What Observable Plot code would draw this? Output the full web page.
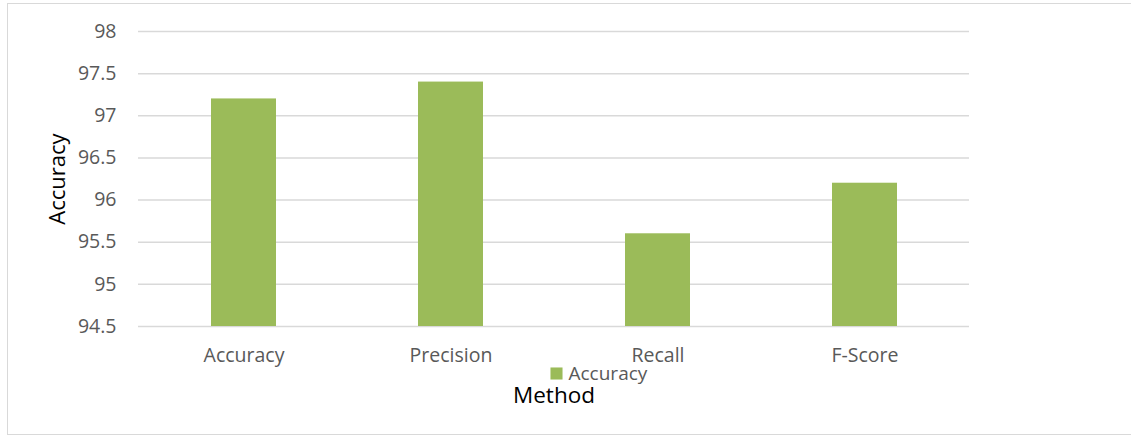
<!DOCTYPE html>
<html>
<head>
<meta charset="utf-8">
<script src="https://cdn.jsdelivr.net/npm/d3@7"></script>
<script src="https://cdn.jsdelivr.net/npm/@observablehq/plot@0.6"></script>
<style>
  html, body { margin: 0; padding: 0; background: #fff; }
  #wrap { position: relative; width: 1131px; height: 438px; overflow: hidden; }
  #border { position: absolute; left: 7px; top: 3px; width: 1130px; height: 432px; border: 1.5px solid #d9d9d9; box-sizing: border-box; }
  #chart { position: absolute; left: 0; top: 0; }
</style>
</head>
<body>
<div id="wrap"><div id="border"></div><div id="chart"></div></div>
<script>
const methods = ["Accuracy", "Precision", "Recall", "F-Score"];
const values = [97.2, 97.4, 95.6, 96.2];
const yTicks = [94.5, 95, 95.5, 96, 96.5, 97, 97.5, 98];
const seriesName = "Accuracy";
const xTitle = "Method";
const yTitle = "Accuracy";

const data = methods.map((m, i) => ({method: m, value: values[i]}));
const font = "'Open Sans', sans-serif";

const chart = Plot.plot({
  width: 1131,
  height: 438,
  marginLeft: 138,
  marginRight: 162,
  marginTop: 31,
  marginBottom: 112,
  style: {fontFamily: font, background: "transparent", color: "#595959"},
  x: {domain: methods, paddingInner: 0.687, paddingOuter: 0.3435, label: null},
  y: {domain: [94.5, 98], label: null},
  marks: [
    Plot.gridY(yTicks, {stroke: "#d9d9d9", strokeOpacity: 1, strokeWidth: 1.5}),
    Plot.barY(data, {x: "method", y1: 94.5, y2: "value", fill: "#9bbb59"}),
    Plot.axisY({ticks: yTicks, tickSize: 0, tickPadding: 22, tickFormat: d => String(d), fontSize: 19.5, fill: "#595959", label: null}),
    Plot.axisX({tickSize: 0, tickPadding: 21.5, fontSize: 19.5, fill: "#595959", label: null}),
    Plot.text([yTitle], {frameAnchor: "left", dx: -81, rotate: -90, textAnchor: "middle", fontSize: 22, fill: "#000", text: d => d}),
    Plot.text([xTitle], {frameAnchor: "bottom", dy: 69, fontSize: 22.5, fill: "#000", text: d => d, lineAnchor: "middle"}),
    Plot.dot([seriesName], {frameAnchor: "bottom", dx: 2.5, dy: 47, symbol: "square", r: 6.8, fill: "#9bbb59", stroke: null}),
    Plot.text([seriesName], {frameAnchor: "bottom", dx: 14.5, dy: 47.5, textAnchor: "start", fontSize: 19, fill: "#595959", text: d => d, lineAnchor: "middle"})
  ]
});
document.getElementById("chart").appendChild(chart);
</script>
</body>
</html>
